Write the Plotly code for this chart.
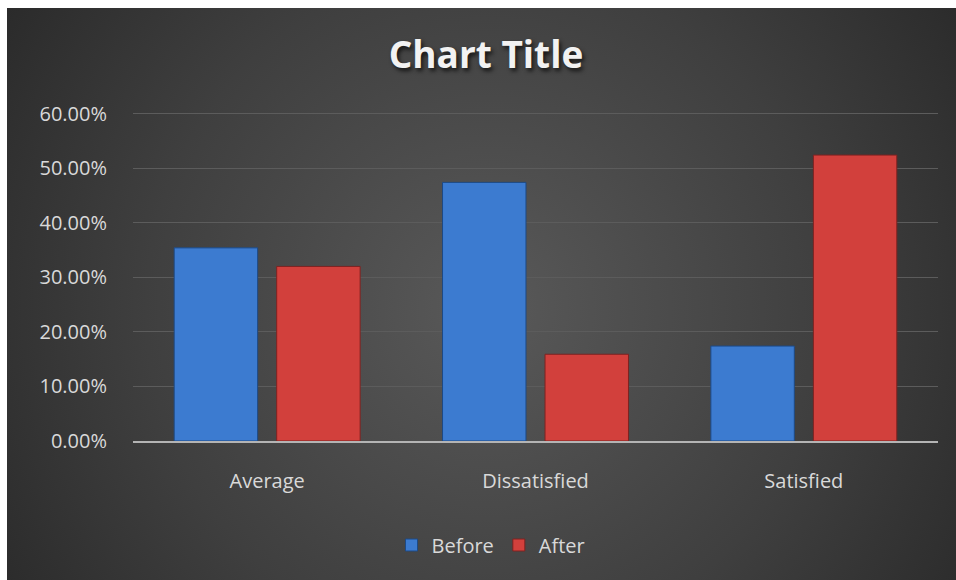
import base64
import plotly.graph_objects as go

categories = ["Average", "Dissatisfied", "Satisfied"]
before = [0.354, 0.474, 0.174]
after = [0.320, 0.159, 0.524]
series_names = ["Before", "After"]
tick_vals = [0, 0.1, 0.2, 0.3, 0.4, 0.5, 0.6]
y_range = [0, 0.603]

W, H = 956, 580
L, R, T, B = 133, 18, 112, 139
pw, ph = W - L - R, H - T - B

# background radial gradient as an SVG image
svg = (
    '<svg xmlns="http://www.w3.org/2000/svg" width="949" height="572" viewBox="0 0 949 572">'
    '<defs><radialGradient id="g" gradientUnits="userSpaceOnUse" cx="480" cy="300" r="620">'
    '<stop offset="0" stop-color="#595959"/><stop offset="0.55" stop-color="#3f3f3f"/>'
    '<stop offset="1" stop-color="#262626"/></radialGradient></defs>'
    '<rect width="949" height="572" fill="url(#g)"/></svg>'
)
src = "data:image/svg+xml;base64," + base64.b64encode(svg.encode()).decode()

fig = go.Figure()
fig.add_trace(go.Bar(
    x=categories, y=before, name=series_names[0],
    marker=dict(color="#3c7bd0", line=dict(color="#1d4a86", width=1)),
))
fig.add_trace(go.Bar(
    x=categories, y=after, name=series_names[1],
    marker=dict(color="#d2403c", line=dict(color="#7e2220", width=1)),
))

fig.update_layout(
    width=W, height=H,
    margin=dict(l=L, r=R, t=T, b=B, pad=0),
    paper_bgcolor="white",
    plot_bgcolor="rgba(0,0,0,0)",
    bargap=0.236, bargroupgap=0.186,
    font=dict(family="Open Sans", color="#d9d9d9", size=20),
    title=dict(
        text="<b>Chart Title</b>", x=486 / W, xref="container", xanchor="center",
        y=1 - 55 / H, yanchor="middle",
        font=dict(family="Open Sans", size=37, color="#f2f2f2",
                  shadow="2px 3px 4px rgba(0,0,0,0.7)"),
    ),
    legend=dict(
        orientation="h", x=(491 - L) / pw, xanchor="center",
        y=(441 - 545) / ph, yanchor="middle",
        font=dict(size=20, color="#d9d9d9"), bgcolor="rgba(0,0,0,0)",
        itemwidth=30, tracegroupgap=0,
    ),
    showlegend=True,
    images=[dict(
        source=src, xref="paper", yref="paper",
        x=(7 - L) / pw, y=(441 - 8) / ph,
        sizex=(W - 7) / pw, sizey=(H - 8) / ph,
        xanchor="left", yanchor="top", sizing="stretch", layer="below",
    )],
)
fig.update_yaxes(
    range=y_range, tickvals=tick_vals, tickformat=".2%",
    showgrid=True, gridcolor="#5c5c5c", gridwidth=1,
    zeroline=False, showline=False,
    ticklabelstandoff=25, tickfont=dict(size=20, color="#d9d9d9"),
)
fig.update_xaxes(
    showline=True, linecolor="#b4b4b4", linewidth=2,
    ticks="", ticklabelstandoff=21, tickfont=dict(size=20, color="#d9d9d9"),
)
fig.write_html("out.html")
